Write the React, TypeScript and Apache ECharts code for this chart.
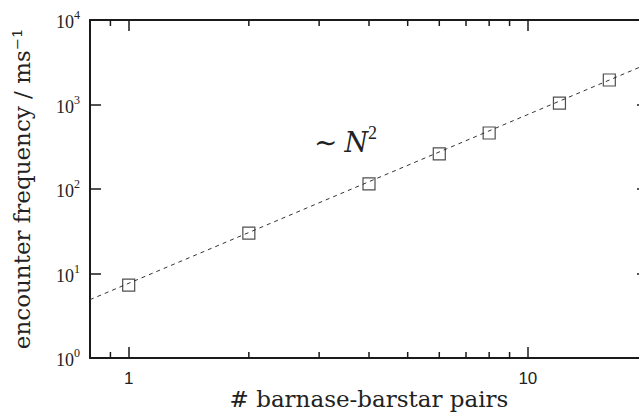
import React, { useEffect, useRef } from "react";
import * as echarts from "echarts";

const pairsX = [1, 2, 4, 6, 8, 12, 16];
const frequencyY = [7.3, 30, 115, 260, 460, 1040, 1950];
const fitLineX = [0.8, 20];
const fitLineY = [4.9, 3040];
const minorTicksX = [0.9, 2, 3, 4, 5, 6, 7, 8, 9];
const xMajorLabels = [1, 10];

const SERIF = "'DejaVu Serif', 'Liberation Serif', serif";
const SERIF2 = "'Liberation Serif', 'DejaVu Serif', serif";
const SANS = "'Liberation Sans', Arial, sans-serif";

export default function App() {
  const ref = useRef<HTMLDivElement>(null);
  useEffect(() => {
    if (!ref.current) return;
    const chart = echarts.init(ref.current, undefined, { renderer: "svg" });
    const axisLine = { show: true, lineStyle: { color: "#1a1a1a", width: 2 } };
    const majorTick = { show: true, inside: true, length: 11, lineStyle: { color: "#1a1a1a", width: 1.5 } };
    const yLabelFmt = (v: number) => {
      const e = Math.round(Math.log10(v));
      return "{b|10}{s|" + e + "}";
    };
    const yRich = {
      b: { fontFamily: SERIF2, fontSize: 18, color: "#222", lineHeight: 22, verticalAlign: "bottom" },
      s: { fontFamily: SERIF2, fontSize: 12, color: "#222", lineHeight: 22, verticalAlign: "top" },
    };
    chart.setOption({
      animation: false,
      backgroundColor: "#fff",
      grid: { left: 90, top: 20, width: 558, height: 338, containLabel: false, outerBoundsMode: "none" },
      xAxis: [
        {
          type: "log",
          logBase: 10,
          min: 0.8,
          max: 20,
          position: "bottom",
          axisLine,
          axisTick: majorTick,
          splitLine: { show: false },
          axisLabel: {
            showMinLabel: false,
            showMaxLabel: false,
            formatter: (v: number) => (xMajorLabels.some((m) => Math.abs(m - v) < 1e-6) ? String(Math.round(v)) : ""),
            fontFamily: SANS,
            fontSize: 17,
            color: "#222",
            margin: 12,
          },
          name: "# barnase-barstar pairs",
          nameLocation: "middle",
          nameGap: 29,
          nameMoveOverlap: false,
          nameTextStyle: { fontFamily: SERIF, fontSize: 23, color: "#222" },
        },
        {
          type: "log",
          logBase: 10,
          min: 0.8,
          max: 20,
          position: "top",
          axisLine,
          axisTick: majorTick,
          splitLine: { show: false },
          axisLabel: { show: false },
        },
      ],
      yAxis: [
        {
          type: "log",
          logBase: 10,
          min: 1,
          max: 10000,
          position: "left",
          axisLine,
          axisTick: majorTick,
          splitLine: { show: false },
          minorTick: { show: false },
          axisLabel: { formatter: yLabelFmt, rich: yRich, margin: 10 },
          name: "encounter frequency / ms⁻¹",
          nameLocation: "middle",
          nameGap: 57,
          nameMoveOverlap: false,
          nameTextStyle: { fontFamily: SERIF, fontSize: 23, color: "#222" },
        },
        {
          type: "log",
          logBase: 10,
          min: 1,
          max: 10000,
          position: "right",
          axisLine,
          axisTick: majorTick,
          splitLine: { show: false },
          axisLabel: { show: false },
        },
      ],
      graphic: [
        {
          type: "text",
          left: 314,
          top: 124,
          style: {
            text: "{t|∼ }{n|N}{s|2}",
            rich: {
              t: { fontFamily: SERIF2, fontSize: 28, fill: "#222", lineHeight: 32, verticalAlign: "bottom" },
              n: { fontFamily: SERIF, fontSize: 27, fontStyle: "italic", fill: "#222", lineHeight: 32, verticalAlign: "bottom" },
              s: { fontFamily: SERIF2, fontSize: 18, fill: "#222", lineHeight: 32, verticalAlign: "top" },
            },
          },
        },
      ],
      series: [
        {
          type: "line",
          data: fitLineX.map((x, i) => [x, fitLineY[i]]),
          showSymbol: false,
          symbol: "none",
          lineStyle: { color: "#333", width: 1, type: [4, 4] },
          z: 2,
        },
        {
          type: "scatter",
          data: pairsX.map((x, i) => [x, frequencyY[i]]),
          symbol: "rect",
          symbolSize: 12,
          itemStyle: { color: "rgba(0,0,0,0)", borderColor: "#222", borderWidth: 1.2 },
          z: 3,
        },
        {
          type: "custom",
          data: minorTicksX.map((v) => [v, 1]),
          renderItem: (params: any, api: any) => {
            const v = api.value(0);
            const b = api.coord([v, 1]);
            const t = api.coord([v, 10000]);
            const st = { stroke: "#1a1a1a", lineWidth: 1.5 };
            return {
              type: "group",
              children: [
                { type: "line", shape: { x1: b[0], y1: b[1], x2: b[0], y2: b[1] - 6 }, style: st },
                { type: "line", shape: { x1: t[0], y1: t[1], x2: t[0], y2: t[1] + 6 }, style: st },
              ],
            };
          },
          silent: true,
          z: 4,
        },
      ],
    });
    return () => chart.dispose();
  }, []);
  return <div ref={ref} style={{ position: "fixed", left: 0, top: 0, width: 639, height: 418 }} />;
}
